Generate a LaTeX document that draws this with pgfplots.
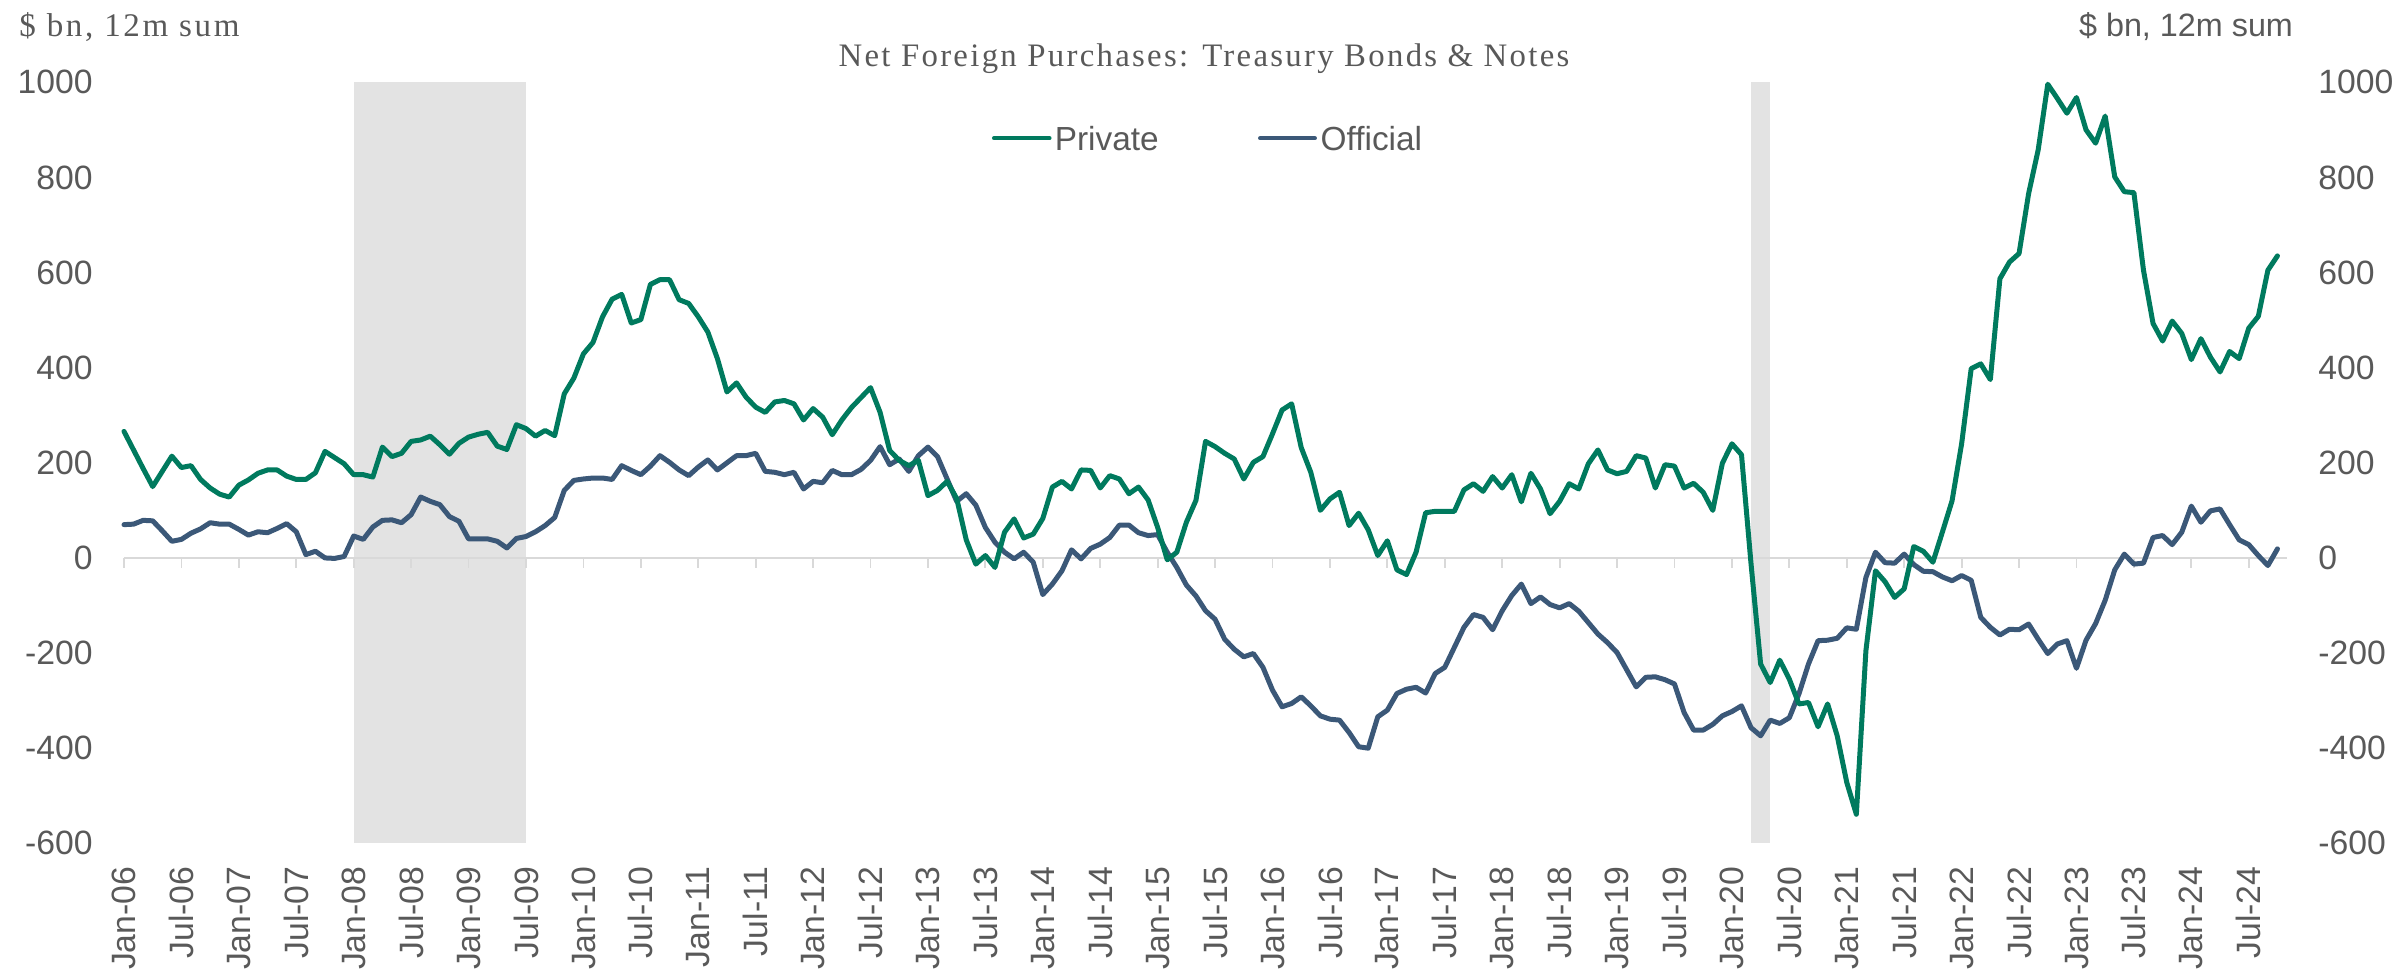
\documentclass[border=0pt]{standalone}
\usepackage{fontspec}
\setmainfont{Liberation Sans}
\newfontfamily\titlefont{Liberation Serif}[LetterSpace=7]
\newfontfamily\unitfont{Liberation Serif}[LetterSpace=8]
\usepackage{pgfplots}
\usepackage{pgfplotstable}
\pgfplotsset{compat=1.18}
\definecolor{priv}{HTML}{007A5E}
\definecolor{offi}{HTML}{3B5878}
\definecolor{txt}{HTML}{595959}
\definecolor{shade}{HTML}{E3E3E3}
\definecolor{zl}{HTML}{D9D9D9}

\pgfplotstableread{
m v
0 266
1 227
2 188
3 150
4 182
5 214
6 190
7 194
8 165
9 147
10 134
11 128
12 153
13 164
14 178
15 185
16 185
17 172
18 165
19 165
20 179
21 224
22 211
23 198
24 175
25 175
26 170
27 233
28 213
29 220
30 245
31 248
32 256
33 238
34 218
35 241
36 254
37 260
38 264
39 235
40 228
41 280
42 272
43 256
44 268
45 257
46 345
47 378
48 429
49 453
50 507
51 544
52 554
53 494
54 501
55 575
56 585
57 585
58 543
59 535
60 507
61 475
62 419
63 349
64 368
65 338
66 317
67 306
68 328
69 331
70 324
71 290
72 314
73 296
74 259
75 290
76 316
77 337
78 358
79 306
80 226
81 205
82 194
83 205
84 131
85 142
86 161
87 125
88 38
89 -13
90 5
91 -20
92 54
93 82
94 42
95 50
96 83
97 149
98 161
99 145
100 185
101 184
102 147
103 173
104 166
105 135
106 149
107 122
108 64
109 -4
110 12
111 75
112 121
113 245
114 234
115 220
116 208
117 166
118 201
119 213
120 261
121 311
122 324
123 232
124 180
125 100
126 124
127 138
128 68
129 94
130 59
131 5
132 36
133 -25
134 -35
135 12
136 95
137 98
138 98
139 98
140 143
141 156
142 140
143 171
144 147
145 175
146 118
147 178
148 145
149 93
150 119
151 156
152 145
153 198
154 227
155 185
156 177
157 182
158 215
159 210
160 147
161 196
162 193
163 147
164 157
165 138
166 100
167 199
168 240
169 217
170 -13
171 -223
172 -262
173 -215
174 -255
175 -307
176 -304
177 -355
178 -307
179 -374
180 -472
181 -539
182 -195
183 -27
184 -50
185 -83
186 -65
187 24
188 14
189 -9
190 55
191 120
192 240
193 398
194 408
195 375
196 587
197 622
198 640
199 766
200 858
201 996
202 966
203 935
204 968
205 900
206 872
207 929
208 801
209 770
210 768
211 605
212 493
213 456
214 498
215 472
216 417
217 461
218 422
219 391
220 434
221 419
222 483
223 508
224 605
225 635
}\privdata

\pgfplotstableread{
m v
0 70
1 71
2 79
3 78
4 57
5 35
6 39
7 52
8 61
9 74
10 71
11 71
12 60
13 48
14 55
15 53
16 62
17 72
18 55
19 7
20 14
21 0
22 -1
23 3
24 46
25 39
26 65
27 79
28 80
29 74
30 91
31 128
32 119
33 112
34 87
35 77
36 40
37 40
38 40
39 35
40 21
41 41
42 45
43 55
44 68
45 85
46 142
47 163
48 166
49 168
50 168
51 165
52 194
53 184
54 175
55 193
56 215
57 201
58 185
59 173
60 191
61 206
62 185
63 200
64 215
65 215
66 220
67 182
68 180
69 175
70 180
71 145
72 161
73 158
74 184
75 175
76 175
77 186
78 205
79 234
80 196
81 208
82 182
83 215
84 233
85 213
86 166
87 119
88 135
89 111
90 64
91 33
92 12
93 -2
94 12
95 -9
96 -77
97 -55
98 -27
99 17
100 -2
101 20
102 29
103 43
104 69
105 69
106 53
107 47
108 49
109 12
110 -20
111 -57
112 -80
113 -111
114 -129
115 -171
116 -192
117 -208
118 -201
119 -230
120 -278
121 -313
122 -306
123 -292
124 -311
125 -332
126 -339
127 -341
128 -367
129 -397
130 -400
131 -334
132 -320
133 -285
134 -276
135 -272
136 -284
137 -243
138 -230
139 -188
140 -146
141 -119
142 -125
143 -151
144 -111
145 -79
146 -55
147 -96
148 -82
149 -98
150 -105
151 -96
152 -112
153 -136
154 -160
155 -178
156 -199
157 -235
158 -271
159 -251
160 -250
161 -256
162 -265
163 -325
164 -362
165 -362
166 -350
167 -332
168 -323
169 -311
170 -357
171 -374
172 -341
173 -348
174 -336
175 -286
176 -223
177 -174
178 -173
179 -169
180 -147
181 -150
182 -41
183 12
184 -10
185 -11
186 8
187 -14
188 -28
189 -29
190 -40
191 -48
192 -37
193 -47
194 -125
195 -146
196 -162
197 -150
198 -151
199 -139
200 -171
201 -201
202 -181
203 -174
204 -232
205 -173
206 -138
207 -89
208 -25
209 8
210 -13
211 -11
212 43
213 47
214 28
215 54
216 109
217 75
218 99
219 103
220 70
221 38
222 28
223 5
224 -16
225 19
}\offidata

\begin{document}
\begin{tikzpicture}
\path[use as bounding box] (-12.4mm,-12.67mm) rectangle (227.3mm,84.33mm);

\begin{axis}[
  at={(0,0)}, anchor=south west,
  scale only axis, width=216.3mm, height=76.1mm,
  xmin=0, xmax=226, ymin=-600, ymax=1000,
  axis line style={draw=none},
  xtick={0,6,...,222},
  xticklabels={Jan-06,Jul-06,Jan-07,Jul-07,Jan-08,Jul-08,Jan-09,Jul-09,Jan-10,Jul-10,Jan-11,Jul-11,Jan-12,Jul-12,Jan-13,Jul-13,Jan-14,Jul-14,Jan-15,Jul-15,Jan-16,Jul-16,Jan-17,Jul-17,Jan-18,Jul-18,Jan-19,Jul-19,Jan-20,Jul-20,Jan-21,Jul-21,Jan-22,Jul-22,Jan-23,Jul-23,Jan-24,Jul-24},
  ytick={-600,-400,...,1000},
  yticklabels={-600,-400,-200,0,200,400,600,800,1000},
  tick style={draw=none},
  tick label style={font=\fontsize{9.6}{11.5}\selectfont, text=txt},
  xticklabel style={rotate=90, anchor=east},
  xticklabel shift=1.1mm,
  yticklabel shift=1.9mm,
  clip=false,
]
\addplot[draw=none, fill=shade] coordinates {(24,-600) (24,1000) (42,1000) (42,-600)} -- cycle;
\addplot[draw=none, fill=shade] coordinates {(170,-600) (170,1000) (172,1000) (172,-600)} -- cycle;
\addplot[zl, line width=0.18mm] coordinates {(0,0) (226,0)};
\pgfplotsinvokeforeach{0,6,...,222}{
  \draw[zl, line width=0.18mm] (axis cs:#1,0) -- (axis cs:#1,-21);
}
\addplot[offi, line width=0.5mm, line join=round, line cap=round] table[x=m, y=v] {\offidata};
\addplot[priv, line width=0.5mm, line join=round, line cap=round] table[x=m, y=v] {\privdata};

% legend
\draw[priv, line width=0.4mm, line cap=round] (rel axis cs:0.4022,0.9264) -- (rel axis cs:0.4279,0.9264);
\node[anchor=west, inner sep=0pt, text=txt, font=\fontsize{9.5}{11}\selectfont] at (rel axis cs:0.4300,0.9264) {Private};
\draw[offi, line width=0.4mm, line cap=round] (rel axis cs:0.5252,0.9264) -- (rel axis cs:0.5506,0.9264);
\node[anchor=west, inner sep=0pt, text=txt, font=\fontsize{9.5}{11}\selectfont] at (rel axis cs:0.5529,0.9264) {Official};
\end{axis}

\begin{axis}[
  at={(0,0)}, anchor=south west,
  scale only axis, width=216.3mm, height=76.1mm,
  xmin=0, xmax=226, ymin=-600, ymax=1000,
  hide x axis,
  axis y line*=right,
  axis line style={draw=none},
  ytick={-600,-400,...,1000},
  yticklabels={-600,-400,-200,0,200,400,600,800,1000},
  tick style={draw=none},
  tick label style={font=\fontsize{9.6}{11.5}\selectfont, text=txt},
  yticklabel shift=1.9mm,
]
\addplot[draw=none] coordinates {(0,0)};
\end{axis}

\node[anchor=base, text=txt, inner sep=0pt, font=\titlefont\fontsize{9.33}{11}\selectfont] at (108.0mm,77.66mm) {Net Foreign Purchases: Treasury Bonds \& Notes};
\node[anchor=base, text=txt, inner sep=0pt, font=\unitfont\fontsize{9.4}{11}\selectfont] at (0.55mm,80.66mm) {\$ bn, 12m sum};
\node[anchor=base, text=txt, inner sep=0pt, font=\fontsize{9.2}{11}\selectfont] at (206.2mm,80.66mm) {\$ bn, 12m sum};
\end{tikzpicture}
\end{document}
